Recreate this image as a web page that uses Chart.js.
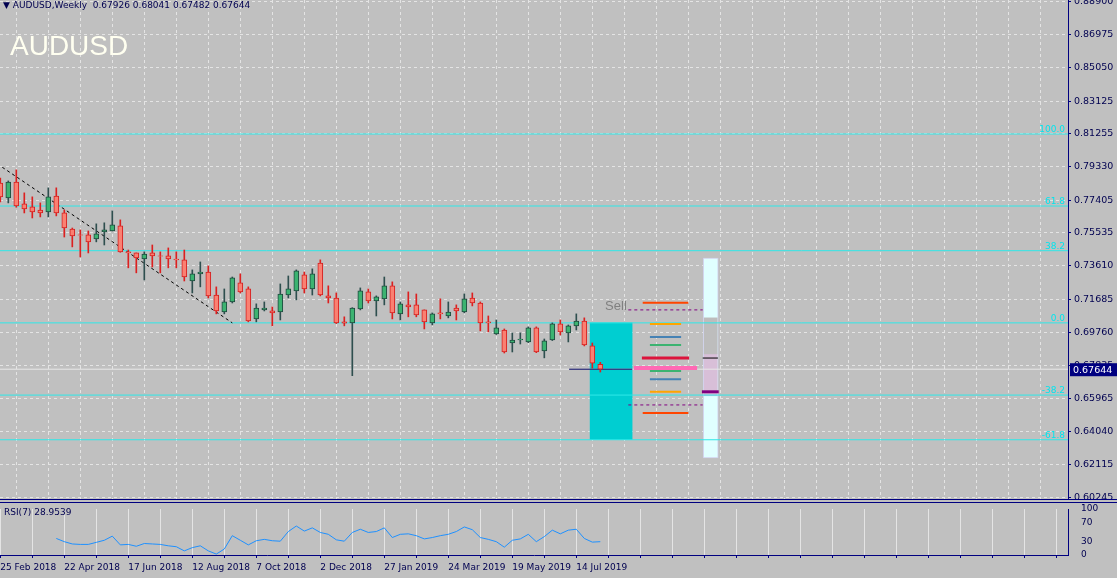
<!DOCTYPE html>
<html><head><meta charset="utf-8">
<script src="https://cdn.jsdelivr.net/npm/chart.js@4"></script>
<style>
html,body{margin:0;padding:0;background:#c0c0c0;width:1117px;height:578px;overflow:hidden;font-family:"DejaVu Sans",sans-serif}
#main{position:absolute;left:0;top:0}
#rsi{position:absolute;left:0;top:503px}
.sep{position:absolute;left:0;width:1117px;height:1px;background:#000080}
#hdr{position:absolute;left:3px;top:0px;font-size:9px;color:#000050}
#big{position:absolute;left:10px;top:30px;font-size:28px;color:#fffff0;font-family:"Liberation Sans",sans-serif}
#rsilbl{position:absolute;left:4px;top:507px;font-size:9px;color:#000050}
</style></head><body>
<canvas id="main" width="1117" height="500"></canvas>
<canvas id="rsi" width="1117" height="75"></canvas>
<div class="sep" style="top:499px"></div>
<div class="sep" style="top:502px"></div>
<div id="hdr">▼ AUDUSD,Weekly&nbsp; 0.67926 0.68041 0.67482 0.67644</div>
<div id="big">AUDUSD</div>
<div id="rsilbl">RSI(7) 28.9539</div>
<script>
const opens=[0.7840,0.7754,0.7846,0.7719,0.7702,0.7684,0.7673,0.7765,0.7667,0.7574,0.7540,0.7540,0.7517,0.7557,0.7563,0.7592,0.7442,0.7436,0.7401,0.7436,0.7419,0.7419,0.7401,0.7396,0.7274,0.7315,0.7326,0.7193,0.7095,0.7153,0.7263,0.7228,0.7055,0.7107,0.7101,0.7095,0.7193,0.7217,0.7309,0.7228,0.7378,0.7188,0.7176,0.7038,0.7032,0.7113,0.7211,0.7159,0.7171,0.7246,0.7084,0.7136,0.7136,0.7107,0.7032,0.7090,0.7072,0.7118,0.7095,0.7176,0.7147,0.7038,0.6968,0.6991,0.6916,0.6934,0.6922,0.7003,0.6870,0.6934,0.7026,0.6974,0.7015,0.7043,0.6899,0.67926];
const highs=[0.7869,0.7852,0.7916,0.7783,0.7760,0.7725,0.7812,0.7812,0.7684,0.7580,0.7569,0.7563,0.7604,0.7610,0.7679,0.7627,0.7453,0.7436,0.7442,0.7482,0.7442,0.7465,0.7442,0.7453,0.7338,0.7384,0.7361,0.7240,0.7228,0.7297,0.7315,0.7240,0.7142,0.7153,0.7124,0.7257,0.7303,0.7338,0.7326,0.7344,0.7396,0.7246,0.7205,0.7067,0.7120,0.7234,0.7228,0.7188,0.7297,0.7269,0.7153,0.7211,0.7199,0.7107,0.7090,0.7171,0.7153,0.7136,0.7199,0.7205,0.7153,0.7072,0.7049,0.6997,0.6974,0.6974,0.7009,0.7009,0.6939,0.7032,0.7049,0.7020,0.7084,0.7061,0.6916,0.68041];
const lows=[0.7731,0.7725,0.7700,0.7667,0.7638,0.7644,0.7644,0.7650,0.7528,0.7471,0.7413,0.7436,0.7500,0.7482,0.7563,0.7440,0.7350,0.7321,0.7280,0.7355,0.7321,0.7350,0.7350,0.7274,0.7205,0.7240,0.7176,0.7084,0.7084,0.7147,0.7205,0.7038,0.7038,0.7101,0.7015,0.7049,0.7176,0.7165,0.7205,0.7193,0.7188,0.7147,0.7028,0.7015,0.6727,0.7107,0.7147,0.7072,0.7136,0.7055,0.7049,0.7067,0.7067,0.6997,0.7020,0.7055,0.7061,0.7049,0.7090,0.7130,0.6986,0.6980,0.6965,0.6858,0.6864,0.6910,0.6918,0.6860,0.6830,0.6930,0.6962,0.6922,0.6991,0.6899,0.6771,0.67482];
const closes=[0.7760,0.7846,0.7707,0.7690,0.7673,0.7667,0.7760,0.7667,0.7580,0.7534,0.7538,0.7500,0.7546,0.7569,0.7598,0.7442,0.7436,0.7407,0.7430,0.7419,0.7417,0.7401,0.7396,0.7297,0.7315,0.7326,0.7188,0.7101,0.7153,0.7292,0.7211,0.7043,0.7118,0.7118,0.7090,0.7199,0.7228,0.7332,0.7228,0.7315,0.7193,0.7176,0.7032,0.7030,0.7118,0.7217,0.7159,0.7182,0.7246,0.7090,0.7142,0.7124,0.7078,0.7038,0.7084,0.7084,0.7095,0.7101,0.7171,0.7147,0.7032,0.7032,0.7003,0.6864,0.6933,0.6939,0.7003,0.6864,0.6928,0.7026,0.6980,0.7015,0.7043,0.6905,0.6800,0.67644];
const rsiStart=7;
const rsiValues=[36,29,24,23,23,27.5,32,41,22,23,19,25,24,23,20,18,9,16,20,9,2,13,42,32,22,31,34,31,30,51,63,52,59,49,45,33,30,49,56,49,51,59,38,45,46,42,35,38,42,45,51,61,55,38,34,29,17,32,35,45,29,40,54,46,54,56,36,28,28.95];
const dateLabels=['25 Feb 2018','22 Apr 2018','17 Jun 2018','12 Aug 2018','7 Oct 2018','2 Dec 2018','27 Jan 2019','24 Mar 2019','19 May 2019','14 Jul 2019'];
const priceTicks=[0.88900,0.86975,0.85050,0.83125,0.81255,0.79330,0.77405,0.75535,0.73610,0.71685,0.69760,0.67835,0.65965,0.64040,0.62115,0.60245];
const rsiTicks=[0,30,70,100];
const fibLevels=[0.8123,0.7707,0.7449,0.7032,0.6615,0.6357];
const fibNames=['100.0','61.8','38.2','0.0','-38.2','-61.8'];
const lastPrice=0.67644;
const trend=[[-1,0.7970],[29,0.7032]];
// [price, xFrom, xTo, colour, width]
const segments=[[0.7149,80.3,86,'#ff4500',2],[0.7026,81.2,85.1,'#ffa500',2],[0.6951,81.2,85.1,'#4682b4',2],[0.6905,81.2,85.1,'#3cb371',2],[0.6829,80.2,86.1,'#dc143c',3],[0.6771,79.2,87.1,'#ff69b4',4],[0.6754,81.2,85.1,'#3cb371',2],[0.6707,81.2,85.1,'#4682b4',2],[0.6634,81.2,85.1,'#ffa500',2],[0.6512,80.3,86,'#ff4500',2],[0.6829,87.8,89.7,'#000000',1],[0.6634,87.7,89.8,'#800080',3],[0.67644,71.1,79,'#000060',1]];
const dashedLevels=[0.7107,0.6558];
const cyanBox=[76.35,0.6357,0.7032];
const sideBar=[88.8,0.6252,0.7407];
const sideGray=[0.6853,0.7061];
const sideThistle=[0.6611,0.6853];

const idx=opens.map((_,i)=>i);
const bull=idx.map(i=>closes[i]>opens[i]);
const XMIN=-0.0375,XMAX=133.46;
const mult4=s=>{const t=[];for(let v=0;v<=XMAX;v+=4)t.push({value:v});s.ticks=t;};
const ds=[];
ds.push({type:'bar',data:[{x:cyanBox[0],y:[cyanBox[1],cyanBox[2]]}],backgroundColor:'#00ced1',barThickness:42,order:20});
ds.push({type:'bar',data:[{x:sideBar[0],y:[sideBar[1],sideBar[2]]}],backgroundColor:'#e0ffff',borderColor:'#d0d0ec',borderWidth:1,borderSkipped:false,barThickness:15,order:20});
ds.push({type:'bar',data:[{x:sideBar[0],y:sideGray}],backgroundColor:'#bdbdbd',barThickness:13,order:19});
ds.push({type:'bar',data:[{x:sideBar[0],y:sideThistle}],backgroundColor:'#d8bfd8',barThickness:13,order:19});
fibLevels.forEach(p=>ds.push({type:'line',data:[{x:-1,y:p},{x:140,y:p}],borderColor:'#2ee8e8',borderWidth:1,pointRadius:0,order:18}));
ds.push({type:'line',data:[{x:-1,y:lastPrice},{x:140,y:lastPrice}],borderColor:'#e8e8e8',borderWidth:1,pointRadius:0,order:18});
ds.push({type:'line',data:trend.map(p=>({x:p[0],y:p[1]})),borderColor:'#000',borderWidth:1,borderDash:[3,3],pointRadius:0,order:5});
dashedLevels.forEach(p=>ds.push({type:'line',data:[{x:78.5,y:p},{x:87.8,y:p}],borderColor:'#800080',borderWidth:1,borderDash:[3,3],pointRadius:0,order:5}));
segments.forEach(s=>ds.push({type:'line',data:[{x:s[1],y:s[0]},{x:s[2],y:s[0]}],borderColor:s[3],borderWidth:s[4],pointRadius:0,order:4}));
ds.push({type:'bar',data:idx.map(i=>({x:i,y:[lows[i],highs[i]]})),backgroundColor:idx.map(i=>bull[i]?'#2f4f4f':'#dc2020'),barThickness:1,order:2});
ds.push({type:'bar',data:idx.map(i=>({x:i,y:[opens[i],closes[i]]})),backgroundColor:idx.map(i=>bull[i]?'#3cb371':'#fa8072'),borderColor:idx.map(i=>bull[i]?'#1f4a3f':'#d42020'),borderWidth:1,borderSkipped:false,barThickness:5,order:1});

const textPlugin={id:'txt',afterDatasetsDraw(c){
 const ctx=c.ctx,y=c.scales.y,x=c.scales.x;ctx.save();
 ctx.font='9px "DejaVu Sans"';ctx.fillStyle='#00e5ee';ctx.textAlign='right';ctx.textBaseline='bottom';
 fibLevels.forEach((p,i)=>ctx.fillText(fibNames[i],c.chartArea.right-3,y.getPixelForValue(p)));
 ctx.font='13px "Liberation Sans"';ctx.fillStyle='#808080';ctx.textAlign='left';ctx.textBaseline='middle';
 ctx.fillText('Sell',x.getPixelForValue(75.6),y.getPixelForValue(0.7127));
 const py=y.getPixelForValue(lastPrice);ctx.fillStyle='#000080';ctx.fillRect(c.chartArea.right+2,py-6,47,13);
 ctx.fillStyle='#fff';ctx.font='9.5px "DejaVu Sans"';ctx.fillText(lastPrice.toFixed(5),c.chartArea.right+5,py+1);
 ctx.restore();}};

new Chart(document.getElementById('main'),{type:'bar',data:{datasets:ds},plugins:[textPlugin],
options:{responsive:false,animation:false,layout:{padding:0},datasets:{bar:{grouped:false}},plugins:{legend:{display:false},tooltip:{enabled:false}},
scales:{x:{type:'linear',min:XMIN,max:XMAX,offset:false,afterBuildTicks:mult4,ticks:{display:false},grid:{color:'#e4e4e4',drawTicks:false,tickLength:0},border:{display:false,dash:[3,3]}},
y:{position:'right',min:0.6009,max:0.8897,afterBuildTicks:s=>{s.ticks=priceTicks.map(v=>({value:v}));},
afterFit:s=>{s.width=49;s.paddingTop=0;s.paddingBottom=0;},
ticks:{callback:v=>v.toFixed(5),font:{family:'DejaVu Sans',size:9.5},color:'#000050',padding:3},
grid:{color:'#e4e4e4',tickColor:'#000080',tickLength:3},border:{color:'#000080',width:1,dash:[3,3]}}}}});

new Chart(document.getElementById('rsi'),{type:'line',data:{datasets:[{data:rsiValues.map((v,i)=>({x:i+rsiStart,y:v})),borderColor:'#1e90ff',borderWidth:1,pointRadius:0}]},
options:{responsive:false,animation:false,layout:{padding:{top:6}},plugins:{legend:{display:false},tooltip:{enabled:false}},
scales:{x:{type:'linear',min:XMIN,max:XMAX,offset:false,afterBuildTicks:mult4,afterFit:s=>{s.height=23;s.paddingLeft=0;s.paddingRight=0;},
ticks:{autoSkip:false,maxRotation:0,align:'start',color:'#000050',font:{family:'DejaVu Sans',size:9},padding:4,callback:v=>(v%8===0&&dateLabels[v/8])?dateLabels[v/8]:''},
grid:{color:'#e4e4e4',tickColor:'#000080',tickLength:3},border:{color:'#000080'}},
y:{position:'right',min:0,max:100,afterBuildTicks:s=>{s.ticks=rsiTicks.map(v=>({value:v}));},afterFit:s=>{s.width=49;s.paddingTop=0;s.paddingBottom=0;},
ticks:{font:{family:'DejaVu Sans',size:9},color:'#000050',padding:5},grid:{display:false},border:{color:'#000080'}}}}});
</script></body></html>
